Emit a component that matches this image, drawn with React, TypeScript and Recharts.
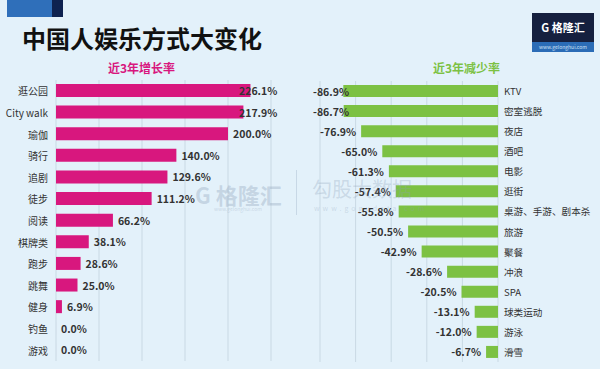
import { Bar, BarChart, CartesianGrid, LabelList, XAxis, YAxis } from "recharts";

const growthCategories = ["逛公园", "City walk", "瑜伽", "骑行", "追剧", "徒步", "阅读", "棋牌类", "跑步", "跳舞", "健身", "钓鱼", "游戏"];
const growthValues = [226.1, 217.9, 200.0, 140.0, 129.6, 111.2, 66.2, 38.1, 28.6, 25.0, 6.9, 0.0, 0.0];
const growthTicks = [0, 50, 100, 150, 200, 250];

const declineCategories = ["KTV", "密室逃脱", "夜店", "酒吧", "电影", "逛街", "桌游、手游、剧本杀", "旅游", "聚餐", "冲浪", "SPA", "球类运动", "游泳", "滑雪"];
const declineValues = [-86.9, -86.7, -76.9, -65.0, -61.3, -57.4, -55.8, -50.5, -42.9, -28.6, -20.5, -13.1, -12.0, -6.7];
const declineTicks = [-100, -80, -60, -40, -20, 0];

const growthData = growthCategories.map((name, i) => ({ name, value: growthValues[i] }));
const declineData = declineCategories.map((name, i) => ({ name, value: declineValues[i] }));

const FONT = '"Noto Sans CJK SC", "Noto Sans", sans-serif';
const MAGENTA = "#d8177e";
const GREEN = "#7cc143";
const GRID = "#c9d9e4";

// value label right of the bar, kept inside the plot for the long ones
const GrowthLabel = (props: any) => {
    const { x, y, width, height, value } = props;
    const end = x + Math.max(width, 0);
    const lx = Math.min(end + 5, 239);
    return (
        <text x={lx} y={y + height / 2} dominantBaseline="central" fontSize={10.5} fontWeight="bold" fill="#333" fontFamily={FONT}>
            {Number(value).toFixed(1) + "%"}
        </text>
    );
};

// value label left of the (negative) bar; svg starts at page x=300
const DeclineLabel = (props: any) => {
    const { x, y, width, height, value } = props;
    const start = Math.min(x, x + width);
    const lx = Math.max(start - 5, 49);
    return (
        <text x={lx} y={y + height / 2} dominantBaseline="central" textAnchor="end" fontSize={10.5} fontWeight="bold" fill="#333" fontFamily={FONT}>
            {Number(value).toFixed(1) + "%"}
        </text>
    );
};

const LeftTick = (props: any) => {
    const { x, y, payload } = props;
    return (
        <text x={x} y={y} dominantBaseline="central" textAnchor="end" fontSize={10} fill="#333" fontFamily={FONT}>
            {payload.value}
        </text>
    );
};

const RightTick = (props: any) => {
    const { x, y, payload } = props;
    return (
        <text x={x - 2} y={y} dominantBaseline="central" textAnchor="start" fontSize={9.6} fill="#333" fontFamily={FONT}>
            {payload.value}
        </text>
    );
};

export default function App() {
    return (
        <div style={{ position: "absolute", left: 0, top: 0, width: 600, height: 369, background: "#e3f1fa", overflow: "hidden", fontFamily: FONT }}>
            {/* top-left colour block */}
            <div style={{ position: "absolute", left: 7, top: 0, width: 45, height: 17, background: "#2f6fba" }} />
            <div style={{ position: "absolute", left: 52, top: 0, width: 11, height: 17, background: "#0e2250" }} />

            <div style={{ position: "absolute", left: 22, top: 24, fontSize: 24, lineHeight: "28px", fontWeight: "bold", color: "#111" }}>
                中国人娱乐方式大变化
            </div>

            {/* logo */}
            <div style={{ position: "absolute", left: 532, top: 13, width: 62, height: 39, background: "#15203f" }}>
                <div style={{ position: "absolute", left: 0, top: 7, width: 62, textAlign: "center", color: "#fff", fontSize: 11, fontWeight: "bold", lineHeight: "14px" }}>
                    G 格隆汇
                </div>
                <div style={{ position: "absolute", left: 0, bottom: 0, width: 62, height: 10, background: "#2b6cb6", color: "#cfe0f5", fontSize: 5, lineHeight: "10px", textAlign: "center" }}>
                    www.gelonghui.com
                </div>
            </div>

            <div style={{ position: "absolute", left: 108, top: 60, fontSize: 12, lineHeight: "16px", fontWeight: "bold", color: MAGENTA }}>近3年增长率</div>
            <div style={{ position: "absolute", left: 433, top: 60, fontSize: 12, lineHeight: "16px", fontWeight: "bold", color: GREEN }}>近3年减少率</div>

            <div style={{ position: "absolute", left: 0, top: 75 }}>
                <BarChart width={300} height={291} layout="vertical" data={growthData} margin={{ top: 5, right: 29, bottom: 5, left: 0 }}>
                    <CartesianGrid horizontal={false} stroke={GRID} />
                    <XAxis type="number" domain={[0, 250]} ticks={growthTicks} hide />
                    <YAxis type="category" dataKey="name" width={56} tickLine={false} axisLine={false} tick={<LeftTick />} interval={0} />
                    <Bar dataKey="value" fill={MAGENTA} barSize={13} minPointSize={0.01} isAnimationActive={false}>
                        <LabelList dataKey="value" content={<GrowthLabel />} />
                    </Bar>
                </BarChart>
            </div>

            <div style={{ position: "absolute", left: 300, top: 76 }}>
                <BarChart width={300} height={291} layout="vertical" data={declineData} margin={{ top: 5, right: 0, bottom: 5, left: 20 }}>
                    <CartesianGrid horizontal={false} stroke={GRID} />
                    <XAxis type="number" domain={[-100, 0]} ticks={declineTicks} hide />
                    <YAxis type="category" dataKey="name" orientation="right" width={102} tickLine={false} axisLine={false} tick={<RightTick />} interval={0} />
                    <Bar dataKey="value" fill={GREEN} barSize={12} isAnimationActive={false}>
                        <LabelList dataKey="value" content={<DeclineLabel />} />
                    </Bar>
                </BarChart>
            </div>

            {/* watermarks */}
            <div style={{ position: "absolute", left: 195, top: 181, color: "rgba(140,160,185,0.35)", fontSize: 22, fontWeight: "bold", lineHeight: "26px" }}>G 格隆汇</div>
            <div style={{ position: "absolute", left: 214, top: 206, color: "rgba(140,160,185,0.35)", fontSize: 5, lineHeight: "6px" }}>www.gelonghui.com</div>
            <div style={{ position: "absolute", left: 296, top: 170, width: 1, height: 45, background: "rgba(140,160,185,0.3)" }} />
            <div style={{ position: "absolute", left: 312, top: 176, color: "rgba(140,160,185,0.3)", fontSize: 20, lineHeight: "26px" }}>勾股大数据</div>
            <div style={{ position: "absolute", left: 314, top: 204, color: "rgba(140,160,185,0.3)", fontSize: 7, letterSpacing: 3, lineHeight: "8px" }}>www.gogudata.com</div>
        </div>
    );
}
